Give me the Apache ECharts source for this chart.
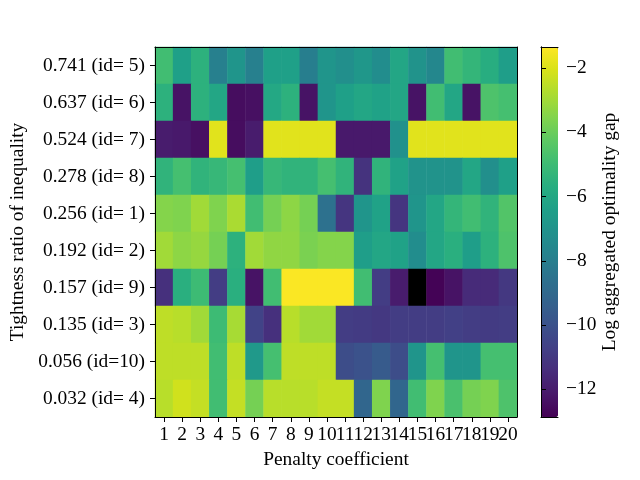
<!DOCTYPE html>
<html>
<head>
<meta charset="utf-8">
<script src="https://cdn.jsdelivr.net/npm/echarts@6/dist/echarts.min.js"></script>
<style>
  html, body { margin: 0; padding: 0; background: #fff; }
  #chart { width: 640px; height: 480px; }
</style>
</head>
<body>
<div id="chart"></div>
<script>
(function () {
  "use strict";

  var FONT = "'Liberation Serif', 'DejaVu Serif', serif";
  var INK = "#000000";

  // --- Data (top row first) ---
  var ROW_LABELS = [
    "0.741 (id= 5)", "0.637 (id= 6)", "0.524 (id= 7)", "0.278 (id= 8)", "0.256 (id= 1)",
    "0.192 (id= 2)", "0.157 (id= 9)", "0.135 (id= 3)", "0.056 (id=10)", "0.032 (id= 4)"
  ];
  var PENALTY = ["1", "2", "3", "4", "5", "6", "7", "8", "9", "10",
                 "11", "12", "13", "14", "15", "16", "17", "18", "19", "20"];

  // value below the colour range, drawn black
  var UNDER = -99;

  var GAP_ID5 = [-4.9, -6.4, -5.5, -7.9, -6.9, -7.9, -6.4, -6.4, -8.0, -6.9, -7.2, -6.8, -7.3, -6.1, -7.0, -7.6, -4.9, -5.3, -5.7, -6.5];
  var GAP_ID6 = [-5.5, -12.3, -5.5, -6.1, -12.5, -12.4, -6.0, -5.5, -12.3, -6.9, -6.4, -6.1, -6.3, -6.1, -12.3, -4.9, -6.1, -12.3, -4.6, -4.8];
  var GAP_ID7 = [-12.0, -12.1, -12.4, -1.9, -12.5, -12.0, -1.9, -1.9, -1.9, -1.9, -12.1, -12.1, -12.1, -7.1, -1.9, -1.9, -1.9, -1.9, -1.9, -1.9];
  var GAP_ID8 = [-5.4, -4.8, -5.4, -5.2, -4.8, -6.5, -5.2, -5.4, -5.4, -4.8, -5.4, -11.2, -5.4, -6.3, -7.0, -7.0, -7.0, -6.1, -7.2, -6.4];
  var GAP_ID1 = [-3.5, -3.6, -3.0, -3.6, -2.85, -4.9, -3.8, -3.35, -3.8, -8.6, -11.1, -6.9, -6.3, -11.1, -6.9, -6.1, -5.3, -4.9, -5.4, -4.5];
  var GAP_ID2 = [-3.0, -3.35, -3.2, -3.8, -5.5, -3.0, -3.3, -3.3, -3.7, -3.5, -3.5, -6.5, -6.1, -6.3, -7.3, -6.1, -5.6, -6.5, -5.5, -4.6];
  var GAP_ID9 = [-11.3, -5.6, -5.0, -10.8, -5.6, -12.3, -4.9, -1.4, -1.4, -1.4, -1.4, -4.9, -10.8, -12.0, UNDER, -12.8, -12.3, -11.5, -11.5, -11.0];
  var GAP_ID3 = [-2.5, -2.6, -3.0, -5.0, -2.9, -10.6, -11.3, -2.6, -3.0, -3.0, -10.8, -10.9, -11.0, -10.8, -10.8, -10.8, -10.7, -10.8, -10.9, -10.8];
  var GAP_ID10 = [-2.5, -2.5, -2.5, -4.9, -2.5, -6.7, -4.8, -2.5, -2.5, -2.5, -10.2, -10.0, -9.6, -10.2, -6.9, -4.8, -6.9, -6.9, -4.8, -4.8];
  var GAP_ID4 = [-2.6, -2.2, -2.4, -4.9, -2.4, -3.8, -2.6, -2.6, -2.6, -2.4, -2.4, -9.1, -3.6, -9.1, -4.9, -3.6, -4.7, -3.8, -3.6, -4.6];

  var GAP_ROWS = [GAP_ID5, GAP_ID6, GAP_ID7, GAP_ID8, GAP_ID1, GAP_ID2, GAP_ID9, GAP_ID3, GAP_ID10, GAP_ID4];

  var VMIN = -12.86;
  var VMAX = -1.35;
  var CBAR_TICKS = [-12, -10, -8, -6, -4, -2];

  var VIRIDIS = ["#440154", "#48186a", "#472d7b", "#424086", "#3b528b", "#33638d", "#2c728e", "#26828e",
                 "#21918c", "#1fa088", "#28ae80", "#3fbc73", "#5ec962", "#84d44b", "#addc30", "#d8e219", "#fde725"];

  var cells = [];
  GAP_ROWS.forEach(function (row, r) {
    row.forEach(function (v, c) { cells.push([c, r, v]); });
  });

  var labelStyle = { color: INK, fontFamily: FONT, fontSize: 19.4 };
  var lineOnly = { show: true, lineStyle: { color: INK, width: 1 } };

  var chart = echarts.init(document.getElementById("chart"));
  chart.setOption({
    animation: false,
    backgroundColor: "#ffffff",
    textStyle: { fontFamily: FONT, color: INK },
    grid: [
      { left: 155, top: 47, width: 362, height: 370 },
      { left: 541, top: 47, width: 17, height: 370 }
    ],
    xAxis: [
      {
        type: "category", gridIndex: 0, data: PENALTY, position: "bottom", z: 10,
        axisLine: lineOnly,
        axisTick: { show: true, alignWithLabel: true, length: 5, lineStyle: { color: INK } },
        axisLabel: Object.assign({ interval: 0, margin: 8 }, labelStyle),
        splitLine: { show: false },
        name: "Penalty coefficient", nameLocation: "middle", nameGap: 33,
        nameTextStyle: labelStyle
      },
      {
        type: "category", gridIndex: 0, data: PENALTY, position: "top", z: 10,
        axisLine: lineOnly, axisTick: { show: false }, axisLabel: { show: false }, splitLine: { show: false }
      },
      {
        type: "value", gridIndex: 1, min: 0, max: 1, position: "bottom", z: 10,
        axisLine: lineOnly, axisTick: { show: false }, axisLabel: { show: false }, splitLine: { show: false }
      },
      {
        type: "value", gridIndex: 1, min: 0, max: 1, position: "top", z: 10,
        axisLine: lineOnly, axisTick: { show: false }, axisLabel: { show: false }, splitLine: { show: false }
      }
    ],
    yAxis: [
      {
        type: "category", gridIndex: 0, data: ROW_LABELS, inverse: true, position: "left", z: 10,
        axisLine: lineOnly,
        axisTick: { show: true, alignWithLabel: true, length: 5, lineStyle: { color: INK } },
        axisLabel: Object.assign({ interval: 0, margin: 10 }, labelStyle),
        splitLine: { show: false },
        name: "Tightness ratio of inequality", nameLocation: "middle", nameGap: 126, nameRotate: 90,
        nameTextStyle: labelStyle
      },
      {
        type: "category", gridIndex: 0, data: ROW_LABELS, inverse: true, position: "right", z: 10,
        axisLine: lineOnly, axisTick: { show: false }, axisLabel: { show: false }, splitLine: { show: false }
      },
      {
        type: "value", gridIndex: 1, min: VMIN, max: VMAX, position: "right", z: 10,
        axisLine: lineOnly,
        axisTick: { show: true, length: 5, customValues: CBAR_TICKS, lineStyle: { color: INK } },
        axisLabel: Object.assign({
          margin: 8, customValues: CBAR_TICKS,
          formatter: function (v) { return String(v).replace("-", "\u2212"); }
        }, labelStyle),
        splitLine: { show: false },
        name: "Log aggregated optimality gap", nameLocation: "middle", nameGap: 42, nameRotate: 90,
        nameTextStyle: labelStyle
      },
      {
        type: "value", gridIndex: 1, min: VMIN, max: VMAX, position: "left", z: 10,
        axisLine: lineOnly, axisTick: { show: false }, axisLabel: { show: false }, splitLine: { show: false }
      }
    ],
    visualMap: {
      type: "continuous",
      min: VMIN, max: VMAX,
      // lower end kept just inside min so values below the scale fall out of range
      range: [VMIN + 1e-4, VMAX],
      seriesIndex: 0,
      calculable: false,
      hoverLink: false,
      orient: "vertical",
      left: 541, top: 47,
      itemWidth: 17, itemHeight: 370,
      padding: 0,
      text: null,
      inRange: { color: VIRIDIS },
      outOfRange: { color: ["#000000"] }
    },
    series: [{
      type: "heatmap",
      xAxisIndex: 0, yAxisIndex: 0,
      data: cells,
      itemStyle: { borderWidth: 0 },
      emphasis: { disabled: true }
    }]
  });
})();
</script>
</body>
</html>
